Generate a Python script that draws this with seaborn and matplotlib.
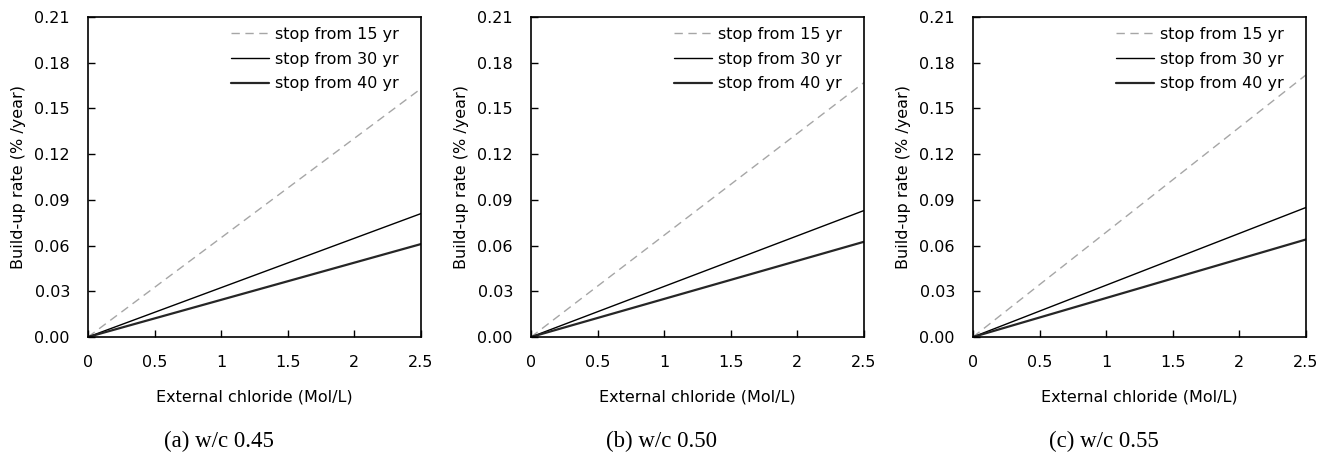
import matplotlib
matplotlib.use("Agg")
import matplotlib.pyplot as plt
import seaborn as sns
import pandas as pd

sns.set_theme(style="white")
plt.rcParams['font.family'] = ['DejaVu Sans']

# ---- data ----
x_chloride = [0.0, 2.5]
series_names = ["stop from 15 yr", "stop from 30 yr", "stop from 40 yr"]
panel_captions = ["(a) w/c 0.45", "(b) w/c 0.50", "(c) w/c 0.55"]
rate_a = {"stop from 15 yr": [0.0, 0.163], "stop from 30 yr": [0.0, 0.081], "stop from 40 yr": [0.0, 0.061]}
rate_b = {"stop from 15 yr": [0.0, 0.167], "stop from 30 yr": [0.0, 0.083], "stop from 40 yr": [0.0, 0.0625]}
rate_c = {"stop from 15 yr": [0.0, 0.172], "stop from 30 yr": [0.0, 0.085], "stop from 40 yr": [0.0, 0.064]}
panels = [rate_a, rate_b, rate_c]
x_ticks = [0, 0.5, 1, 1.5, 2, 2.5]
x_tick_labels = ["0", "0.5", "1", "1.5", "2", "2.5"]
y_ticks = [0.00, 0.03, 0.06, 0.09, 0.12, 0.15, 0.18, 0.21]
y_tick_labels = ["0.00", "0.03", "0.06", "0.09", "0.12", "0.15", "0.18", "0.21"]

styles = {
    "stop from 15 yr": dict(color="#a6a6a6", linewidth=1.0, dashes=(6, 4)),
    "stop from 30 yr": dict(color="black", linewidth=1.0),
    "stop from 40 yr": dict(color="#262626", linewidth=1.6),
}

FS = 11.5
fig = plt.figure(figsize=(13.30, 4.53), dpi=100)
lefts = [88, 531, 973]
W, H = 1330, 453
for i, (data, cap) in enumerate(zip(panels, panel_captions)):
    ax = fig.add_axes([lefts[i] / W, 1 - 337 / H, 333 / W, 320 / H])
    for name in series_names:
        df = pd.DataFrame({"x": x_chloride, "y": data[name]})
        st = dict(styles[name])
        dashes = st.pop("dashes", None)
        sns.lineplot(data=df, x="x", y="y", ax=ax, label=name, **st)
        if dashes is not None:
            ax.lines[-1].set_dashes(dashes)
    ax.set_xlim(0, 2.5)
    ax.set_ylim(0, 0.21)
    ax.set_xticks(x_ticks)
    ax.set_xticklabels(x_tick_labels)
    ax.set_yticks(y_ticks)
    ax.set_yticklabels(y_tick_labels)
    ax.tick_params(direction="in", length=5, width=1, colors="black", labelsize=FS, pad=13,
                   bottom=True, left=True)
    for s in ax.spines.values():
        s.set_color("black")
        s.set_linewidth(1.2)
    ax.set_xlabel("External chloride (Mol/L)", fontsize=FS, labelpad=14, color="black")
    ax.set_ylabel("Build-up rate (% /year)", fontsize=FS, labelpad=6, color="black")
    leg = ax.legend(loc="upper right", bbox_to_anchor=(0.935, 0.97), frameon=False,
                    fontsize=FS, handlelength=2.4, handletextpad=0.4, labelspacing=0.62,
                    borderpad=0, borderaxespad=0)
    for t in leg.get_texts():
        t.set_color("black")
    cx = (lefts[i] + 333 / 2 - 36) / W
    fig.text(cx, 1 - 441 / H, cap, ha="center", va="center", fontsize=16.5,
             family="Liberation Serif", color="black")

fig.savefig("out.png", dpi=100)
